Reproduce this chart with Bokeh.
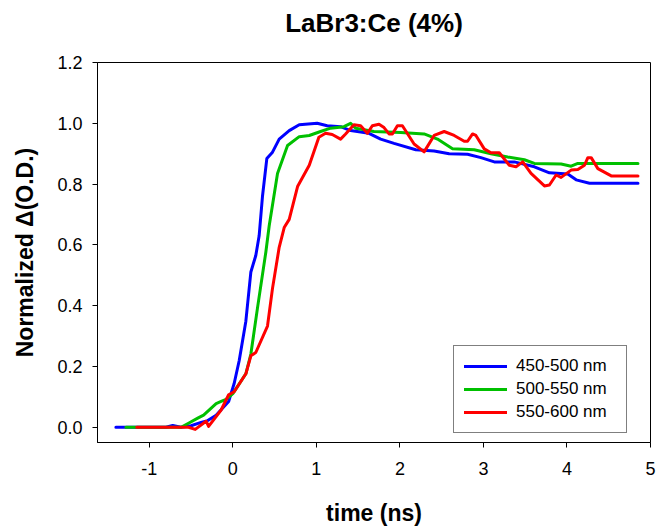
from bokeh.plotting import figure
from bokeh.models import Range1d, FixedTicker, Legend, LegendItem, Title
from bokeh.embed import file_html
from bokeh.resources import INLINE

# ---- data ----
t_blue = [-1.40, -0.80, -0.72, -0.62, -0.50, -0.38, -0.30, -0.20, -0.05, 0.016, 0.076, 0.156, 0.216,
          0.275, 0.315, 0.355, 0.407, 0.475, 0.555, 0.675, 0.795, 1.01, 1.13, 1.29, 1.41, 1.63, 1.77,
          1.93, 2.19, 2.41, 2.59, 2.81, 2.97, 3.13, 3.37, 3.61, 3.79, 4.01, 4.11, 4.27, 4.85]
y_blue = [0.0, 0.0, 0.006, 0.0, 0.005, 0.016, 0.022, 0.04, 0.085, 0.144, 0.219, 0.349, 0.511,
          0.565, 0.63, 0.76, 0.884, 0.905, 0.948, 0.976, 0.995, 1.0, 0.992, 0.989, 0.976, 0.967, 0.948,
          0.934, 0.913, 0.909, 0.9, 0.898, 0.887, 0.873, 0.873, 0.857, 0.837, 0.833, 0.814, 0.803, 0.803]

t_green = [-1.28, -0.62, -0.52, -0.42, -0.35, -0.20, -0.14, -0.08, 0.0, 0.156, 0.216, 0.295, 0.395,
           0.435, 0.535, 0.655, 0.795, 0.915, 1.05, 1.17, 1.33, 1.41, 1.47, 1.69, 2.01, 2.29, 2.45,
           2.63, 2.89, 3.09, 3.29, 3.49, 3.61, 3.93, 4.05, 4.13, 4.85]
y_green = [0.0, 0.0, 0.015, 0.03, 0.04, 0.078, 0.085, 0.092, 0.111, 0.176, 0.241, 0.392, 0.576,
           0.662, 0.835, 0.927, 0.956, 0.96, 0.973, 0.984, 0.989, 1.0, 0.984, 0.973, 0.97, 0.965, 0.948,
           0.916, 0.913, 0.9, 0.889, 0.88, 0.868, 0.866, 0.859, 0.868, 0.868]

t_red = [-1.15, -0.53, -0.45, -0.32, -0.29, -0.14, -0.05, 0.016, 0.156, 0.216, 0.275, 0.415, 0.475,
         0.555, 0.615, 0.675, 0.775, 0.915, 1.03, 1.11, 1.19, 1.29, 1.35, 1.45, 1.53, 1.61, 1.67, 1.75,
         1.81, 1.87, 1.91, 1.97, 2.03, 2.17, 2.29, 2.41, 2.53, 2.65, 2.77, 2.81, 2.87, 2.91, 3.01, 3.09,
         3.19, 3.31, 3.39, 3.47, 3.57, 3.73, 3.79, 3.87, 3.93, 4.05, 4.13, 4.21, 4.25, 4.29, 4.37, 4.53, 4.85]
y_red = [0.0, 0.0, -0.007, 0.02, 0.003, 0.057, 0.107, 0.117, 0.176, 0.235, 0.246, 0.333, 0.457,
         0.592, 0.657, 0.684, 0.792, 0.862, 0.954, 0.967, 0.963, 0.948, 0.965, 0.995, 0.992, 0.967, 0.992, 0.997,
         0.986, 0.965, 0.965, 0.992, 0.992, 0.932, 0.906, 0.96, 0.973, 0.96, 0.941, 0.941, 0.965, 0.96, 0.916, 0.903,
         0.903, 0.862, 0.857, 0.873, 0.835, 0.794, 0.797, 0.83, 0.822, 0.846, 0.848, 0.862, 0.887, 0.887, 0.851, 0.827, 0.827]

series_names = ["450-500 nm", "500-550 nm", "550-600 nm"]
series_colors = ["#0000FF", "#00C000", "#FF0000"]
x_ticks = [-1, 0, 1, 2, 3, 4, 5]
x_tick_labels = ["-1", "0", "1", "2", "3", "4", "5"]
y_ticks = [0.0, 0.2, 0.4, 0.6, 0.8, 1.0, 1.2]
title_text = "LaBr3:Ce (4%)"

FONT = "Liberation Sans"

p = figure(width=666, height=528, output_backend="svg", toolbar_location=None,
           x_range=Range1d(-1.62, 5.0), y_range=Range1d(-0.05, 1.2),
           min_border_left=97, min_border_right=16, min_border_top=62, min_border_bottom=82)
p.title = None
# spacer between the frame and the title (stacked nearest the frame)
p.add_layout(Title(text="\u00a0", text_font=FONT, text_font_size="10px", standoff=10), "above")
p.add_layout(Title(text=title_text, align="center", text_font=FONT, text_font_size="26px",
                   text_font_style="bold", text_color="black", standoff=4), "above")

p.xgrid.visible = False
p.ygrid.visible = False
p.outline_line_color = "black"
p.outline_line_width = 1
p.background_fill_color = "white"
p.border_fill_color = "white"

for ax in (p.xaxis[0], p.yaxis[0]):
    ax.axis_line_color = "black"
    ax.major_tick_line_color = "black"
    ax.major_tick_out = 5
    ax.major_tick_in = 0
    ax.minor_tick_line_color = None
    ax.major_label_text_font = FONT
    ax.major_label_text_font_size = "18px"
    ax.major_label_text_color = "black"
    ax.axis_label_text_font = FONT
    ax.axis_label_text_font_style = "bold"
    ax.axis_label_text_color = "black"

p.xaxis.axis_label_text_font_size = "23px"
p.yaxis.axis_label_text_font_size = "23px"
p.xaxis.ticker = FixedTicker(ticks=x_ticks)
p.yaxis.ticker = FixedTicker(ticks=y_ticks)
p.xaxis.major_label_overrides = dict(zip(x_ticks, x_tick_labels))
p.yaxis.major_label_overrides = {v: f"{v:.1f}" for v in y_ticks}
p.xaxis.major_label_standoff = 14
p.yaxis.major_label_standoff = 10
p.xaxis.axis_label = "time (ns)"
p.yaxis.axis_label = "Normalized \u0394(O.D.)"
p.xaxis.axis_label_standoff = 22
p.yaxis.axis_label_standoff = 16

renderers = []
for (t, y), c in zip([(t_blue, y_blue), (t_green, y_green), (t_red, y_red)], series_colors):
    r = p.line(t, y, line_color=c, line_width=3, line_join="round", line_cap="round")
    renderers.append(r)

legend = Legend(items=[LegendItem(label=n, renderers=[r]) for n, r in zip(series_names, renderers)],
                location=(356, 9), orientation="vertical",
                border_line_color="black", border_line_width=1, background_fill_alpha=1,
                label_text_font=FONT, label_text_font_size="17px", label_text_color="black",
                glyph_width=43, glyph_height=20, label_height=20, label_width=100,
                label_standoff=9, spacing=3, padding=10, margin=0)
p.add_layout(legend, "center")

open("out.html", "w").write(file_html(p, INLINE))
